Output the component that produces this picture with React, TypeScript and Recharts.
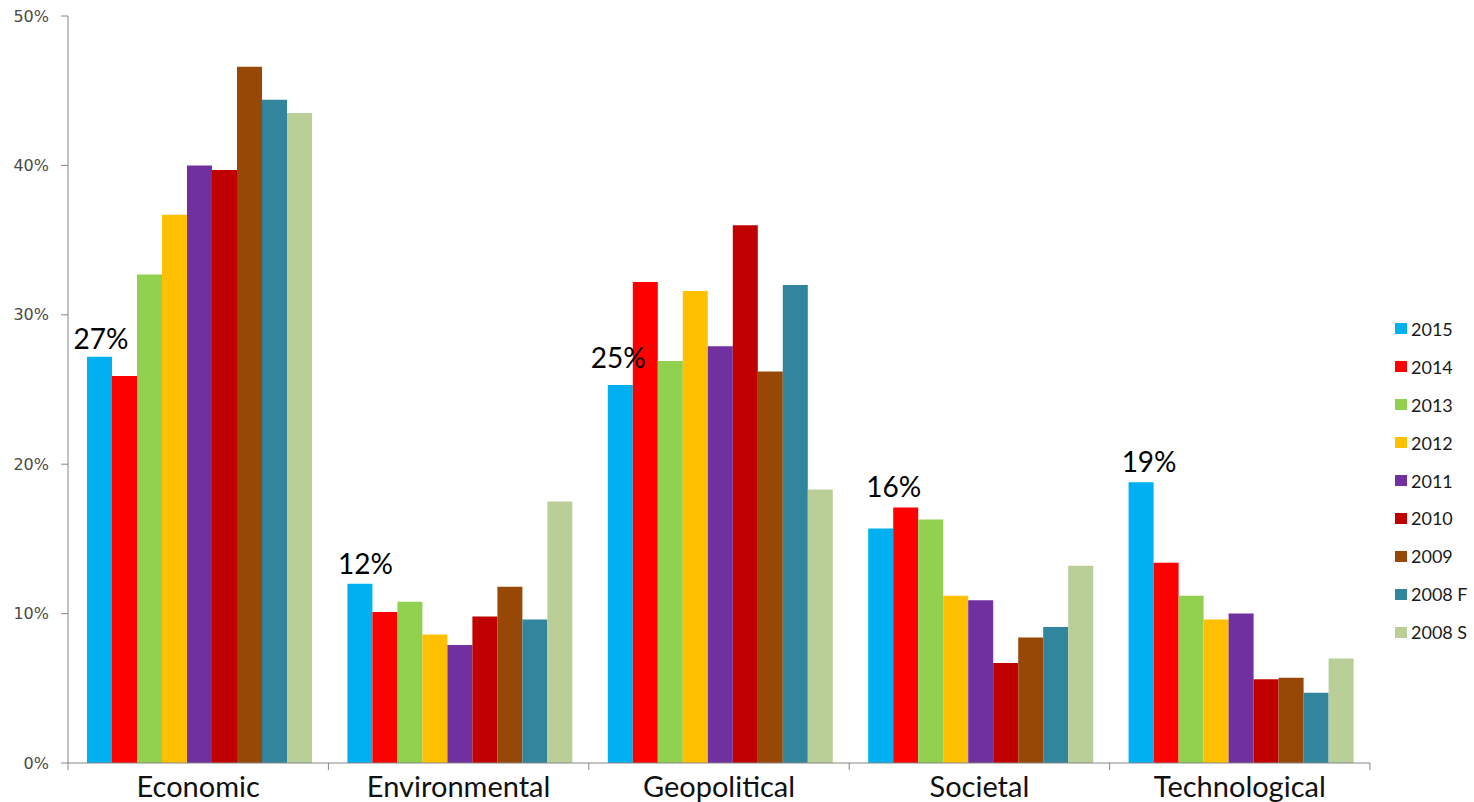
import React from "react";
import { BarChart, Bar, XAxis, YAxis, Legend, LabelList } from "recharts";

const categories = ["Economic", "Environmental", "Geopolitical", "Societal", "Technological"];
const seriesNames = ["2015", "2014", "2013", "2012", "2011", "2010", "2009", "2008 F", "2008 S"];
const seriesColors = ["#00B0F0", "#FF0000", "#92D050", "#FFC000", "#7030A0", "#C00000", "#974806", "#31859C", "#B9CF97"];

// share of respondents (%) per category, one array per survey
const v2015 = [27.2, 12.0, 25.3, 15.7, 18.8];
const v2014 = [25.9, 10.1, 32.2, 17.1, 13.4];
const v2013 = [32.7, 10.8, 26.9, 16.3, 11.2];
const v2012 = [36.7, 8.6, 31.6, 11.2, 9.6];
const v2011 = [40.0, 7.9, 27.9, 10.9, 10.0];
const v2010 = [39.7, 9.8, 36.0, 6.7, 5.6];
const v2009 = [46.6, 11.8, 26.2, 8.4, 5.7];
const v2008F = [44.4, 9.6, 32.0, 9.1, 4.7];
const v2008S = [43.5, 17.5, 18.3, 13.2, 7.0];

const yTicks = [0, 10, 20, 30, 40, 50];

const seriesValues = [v2015, v2014, v2013, v2012, v2011, v2010, v2009, v2008F, v2008S];

const data = categories.map((name, i) => {
  const row: Record<string, string | number> = { name };
  seriesNames.forEach((s, k) => {
    row[s] = seriesValues[k][i];
  });
  return row;
});

const W = 1474;
const H = 802;
const PLOT_LEFT = 68;
const PLOT_RIGHT = 1370;
const PLOT_TOP = 16;
const PLOT_BOTTOM = 763;
const BAND = (PLOT_RIGHT - PLOT_LEFT) / categories.length;
const AXIS_COLOR = "#868686";
const FONT = "Lato, 'Open Sans', sans-serif";

// hand placement of the 2015 callouts
const labelDx = [1.5, 5.5, -2, 13, 8];
const labelLift = [8, 10, 17, 31, 10];

const CategoryTick = (props: any) => {
  const { x, y, payload, index } = props;
  const last = index === categories.length - 1;
  return (
    <g>
      <line x1={x - BAND / 2} y1={PLOT_BOTTOM} x2={x - BAND / 2} y2={PLOT_BOTTOM + 7} stroke={AXIS_COLOR} />
      {last && (
        <line x1={x + BAND / 2} y1={PLOT_BOTTOM} x2={x + BAND / 2} y2={PLOT_BOTTOM + 7} stroke={AXIS_COLOR} />
      )}
      <text x={x} y={y + 34} textAnchor="middle" fontFamily={FONT} fontSize={29} fill="#111">
        {payload.value}
      </text>
    </g>
  );
};

const ValueLabel = (props: any) => {
  const { x, y, width, value, index } = props;
  return (
    <text
      x={x + width / 2 + labelDx[index]}
      y={y - labelLift[index]}
      textAnchor="middle"
      fontFamily={FONT}
      fontSize={28}
      fill="#000"
    >
      {`${Math.round(value)}%`}
    </text>
  );
};

const LegendList = (props: any) => {
  const items = [...(props.payload || [])].sort(
    (a: any, b: any) => seriesNames.indexOf(a.value) - seriesNames.indexOf(b.value)
  );
  return (
    <ul style={{ listStyle: "none", margin: 0, padding: 0 }}>
      {items.map((p: any) => (
        <li key={p.value} style={{ height: 37.9, display: "flex", alignItems: "center" }}>
          <span style={{ width: 12, height: 11, background: p.color, marginRight: 4, display: "inline-block" }} />
          <span style={{ fontFamily: FONT, fontSize: 18, color: "#1a1a1a" }}>{p.value}</span>
        </li>
      ))}
    </ul>
  );
};

const App: React.FC = () => {
  return (
    <div style={{ position: "absolute", left: 0, top: 0, background: "#fff" }}>
      <BarChart
        width={W}
        height={H}
        data={data}
        margin={{ top: PLOT_TOP, right: W - PLOT_RIGHT, bottom: 0, left: 0 }}
        barCategoryGap={19}
        barGap={0}
      >
        <XAxis
          dataKey="name"
          height={H - PLOT_BOTTOM}
          interval={0}
          tickLine={false}
          tickSize={0}
          tickMargin={0}
          axisLine={{ stroke: AXIS_COLOR }}
          tick={<CategoryTick />}
        />
        <YAxis
          width={PLOT_LEFT}
          domain={[0, 50]}
          ticks={yTicks}
          interval={0}
          tickFormatter={(v: number) => `${v}%`}
          tickSize={7}
          tickMargin={12}
          axisLine={{ stroke: AXIS_COLOR }}
          tickLine={{ stroke: AXIS_COLOR }}
          tick={{ fill: "#4a4a4a", fontSize: 16, fontFamily: "'DejaVu Sans', sans-serif" }}
        />
        <Legend
          layout="vertical"
          align="center"
          verticalAlign="middle"
          wrapperStyle={{ left: 1395, top: 310, width: 79 }}
          content={<LegendList />}
        />
        {seriesNames.map((s, k) => (
          <Bar key={s} dataKey={s} fill={seriesColors[k]} isAnimationActive={false}>
            {k === 0 && <LabelList dataKey={s} content={<ValueLabel />} />}
          </Bar>
        ))}
      </BarChart>
    </div>
  );
};

export default App;
